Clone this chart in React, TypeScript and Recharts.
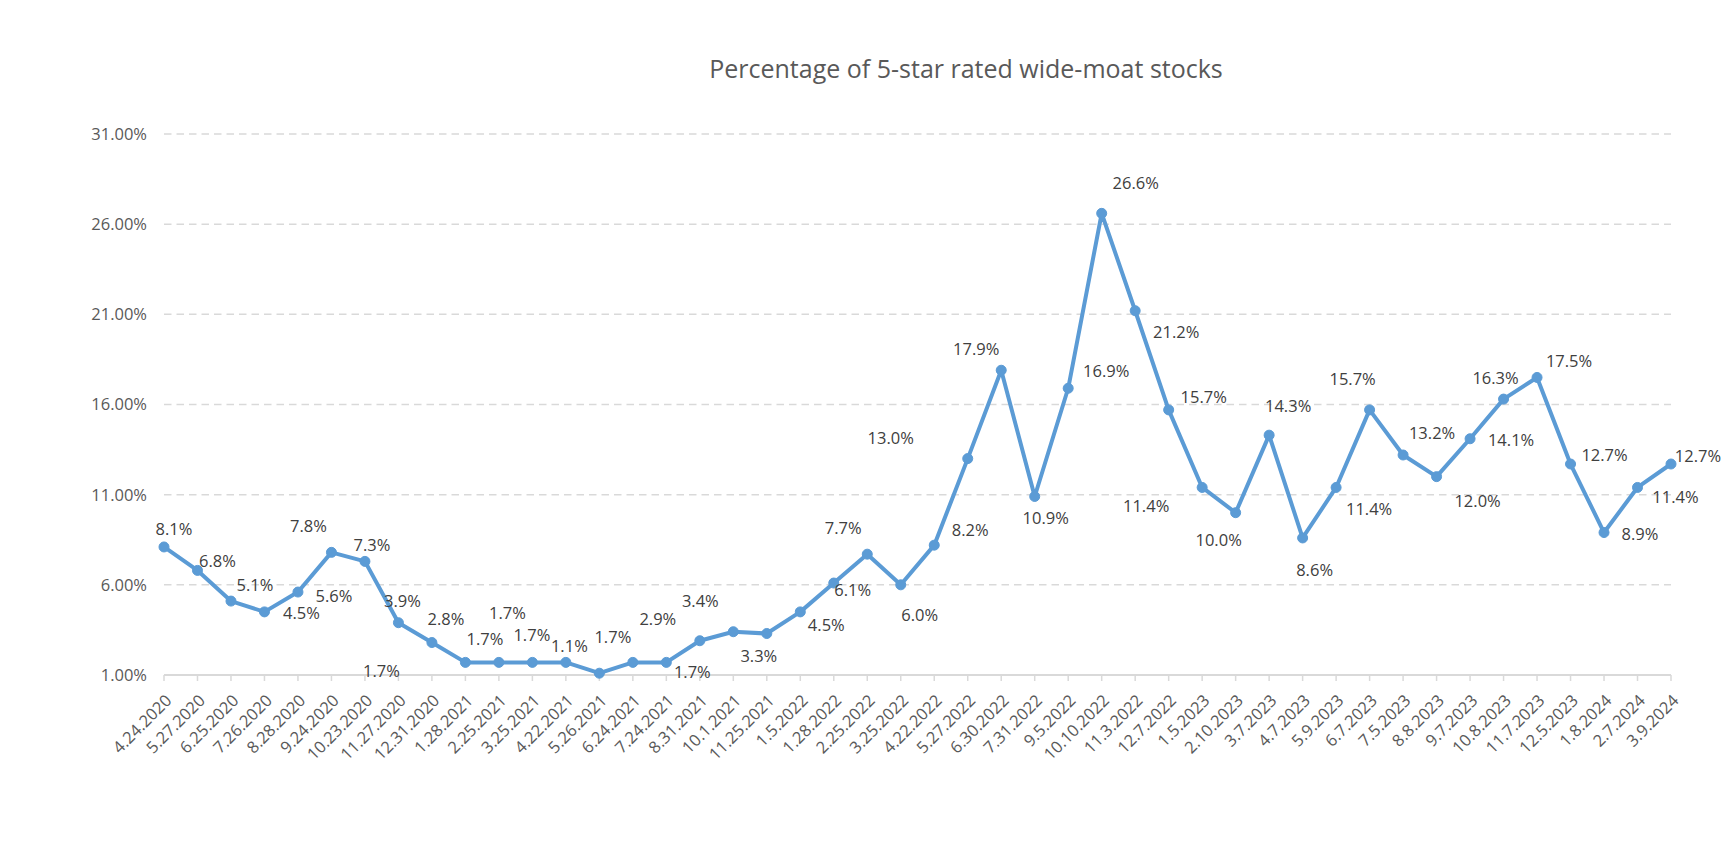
import { LineChart, Line, XAxis, YAxis, CartesianGrid, LabelList } from 'recharts';

const dates = [
  '4.24.2020', '5.27.2020', '6.25.2020', '7.26.2020', '8.28.2020', '9.24.2020', '10.23.2020',
  '11.27.2020', '12.31.2020', '1.28.2021', '2.25.2021', '3.25.2021', '4.22.2021', '5.26.2021',
  '6.24.2021', '7.24.2021', '8.31.2021', '10.1.2021', '11.25.2021', '1.5.2022', '1.28.2022',
  '2.25.2022', '3.25.2022', '4.22.2022', '5.27.2022', '6.30.2022', '7.31.2022', '9.5.2022',
  '10.10.2022', '11.3.2022', '12.7.2022', '1.5.2023', '2.10.2023', '3.7.2023', '4.7.2023',
  '5.9.2023', '6.7.2023', '7.5.2023', '8.8.2023', '9.7.2023', '10.8.2023', '11.7.2023',
  '12.5.2023', '1.8.2024', '2.7.2024', '3.9.2024',
];

// percent of 5-star wide-moat stocks
const shares = [
  8.1, 6.8, 5.1, 4.5, 5.6, 7.8, 7.3, 3.9, 2.8, 1.7, 1.7, 1.7, 1.7, 1.1, 1.7, 1.7,
  2.9, 3.4, 3.3, 4.5, 6.1, 7.7, 6.0, 8.2, 13.0, 17.9, 10.9, 16.9, 26.6, 21.2, 15.7,
  11.4, 10.0, 14.3, 8.6, 11.4, 15.7, 13.2, 12.0, 14.1, 16.3, 17.5, 12.7, 8.9, 11.4, 12.7,
];

const yTicks = [1, 6, 11, 16, 21, 26, 31];

// where each data label sits relative to its point (the original has them hand-placed)
const labelNudges: [number, number][] = [
  [10, -18], [20, -10], [24, -17], [37, 1], [36, 3], [-23, -27], [7, -17], [4, -22],
  [14, -24], [-84, 8], [-14, -24], [-25, -50], [-34, -28], [-30, -28], [-20, -26], [26, 9],
  [-42, -22], [-33, -31], [-8, 22], [26, 13], [19, 6], [-24, -27], [19, 30], [36, -16],
  [-77, -21], [-25, -22], [11, 21], [38, -18], [34, -31], [41, 21], [35, -13], [-56, 18],
  [-17, 27], [19, -30], [12, 32], [33, 21], [-17, -31], [29, -22], [41, 24], [41, 1],
  [-8, -22], [32, -17], [34, -10], [36, 1], [38, 9], [27, -9],
];

const data = dates.map((date, i) => ({ date, share: shares[i] }));

const FONT = '"Open Sans", sans-serif';
const BLUE = '#5B9BD5';
const GRID = '#d9d9d9';

function DateTick({ x, y, payload }: any) {
  const ax = x + 4;
  const ay = y + 14;
  return (
    <text
      x={ax}
      y={ay}
      transform={`rotate(-45, ${ax}, ${ay})`}
      textAnchor="end"
      dominantBaseline="central"
      fill="#595959"
      fontSize={16.5}
      fontFamily={FONT}
    >
      {payload.value}
    </text>
  );
}

function PointLabel(props: any) {
  const x = props.x ?? props.viewBox?.x;
  const y = props.y ?? props.viewBox?.y;
  const index = props.index ?? 0;
  if (x == null || y == null) return null;
  const [dx, dy] = labelNudges[index] ?? [0, -16];
  return (
    <text
      x={x + dx}
      y={y + dy}
      textAnchor="middle"
      dominantBaseline="central"
      fill="#404040"
      fontSize={16.5}
      fontFamily={FONT}
    >
      {Number(props.value).toFixed(1)}%
    </text>
  );
}

export default function App() {
  return (
    <div
      style={{
        position: 'absolute',
        left: 0,
        top: 0,
        width: 1728,
        height: 853,
        background: '#fff',
        fontFamily: FONT,
      }}
    >
      <div
        style={{
          position: 'absolute',
          left: 966,
          top: 54,
          transform: 'translateX(-50%)',
          whiteSpace: 'nowrap',
          fontSize: 25,
          lineHeight: '28px',
          color: '#595959',
        }}
      >
        Percentage of 5-star rated wide-moat stocks
      </div>
      <LineChart
        width={1728}
        height={853}
        data={data}
        margin={{ top: 134, right: 57, bottom: 0, left: 0 }}
      >
        <CartesianGrid vertical={false} stroke={GRID} strokeWidth={1.5} strokeDasharray="7.5 5" />
        <XAxis
          dataKey="date"
          interval={0}
          height={178}
          tick={<DateTick />}
          tickSize={6}
          axisLine={{ stroke: GRID, strokeWidth: 2 }}
          tickLine={{ stroke: GRID, strokeWidth: 1.5 }}
        />
        <YAxis
          type="number"
          domain={[1, 31]}
          ticks={yTicks}
          interval={0}
          width={164}
          axisLine={false}
          tickLine={false}
          tickSize={6}
          tickMargin={11}
          tickFormatter={(v: number) => `${v.toFixed(2)}%`}
          tick={{ fill: '#595959', fontSize: 16.5, fontFamily: FONT }}
        />
        <Line
          type="linear"
          dataKey="share"
          stroke={BLUE}
          strokeWidth={4}
          strokeLinejoin="round"
          dot={{ r: 5, fill: BLUE, stroke: BLUE, strokeWidth: 1 }}
          activeDot={false}
          isAnimationActive={false}
        >
          <LabelList dataKey="share" content={<PointLabel />} />
        </Line>
      </LineChart>
    </div>
  );
}
